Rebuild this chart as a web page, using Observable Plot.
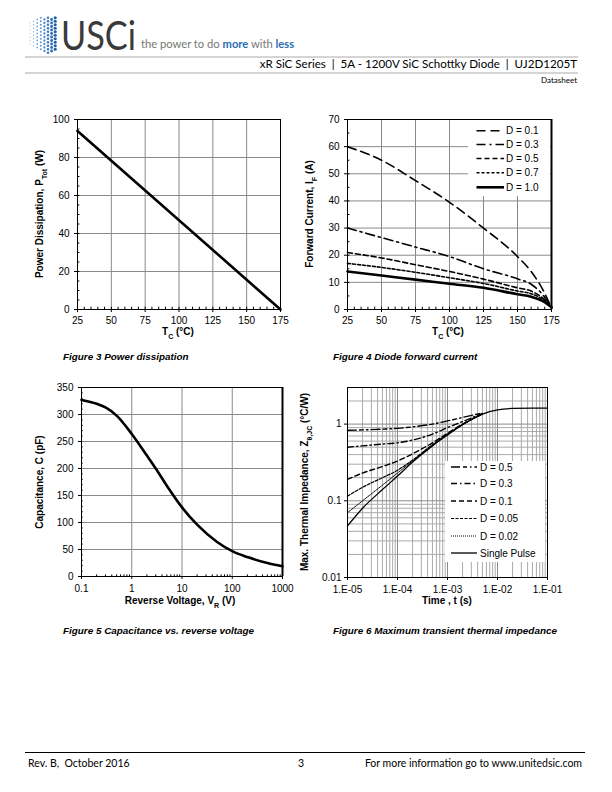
<!DOCTYPE html>
<html><head><meta charset="utf-8">
<script src="https://cdn.jsdelivr.net/npm/d3@7"></script>
<script src="https://cdn.jsdelivr.net/npm/@observablehq/plot@0.6"></script>
<style>
body{margin:0;background:#fff;}
#page{position:relative;width:612px;height:792px;overflow:hidden;background:#fff;}
.chart{position:absolute;}
.cap{position:absolute;font-family:"Liberation Sans",Arial,sans-serif;font-weight:bold;font-style:italic;font-size:9.9px;line-height:10px;white-space:nowrap;}
.ft{position:absolute;font-family:Lato,"Open Sans",sans-serif;font-size:10.5px;line-height:11px;white-space:pre;color:#000;}
</style></head><body><div id="page">
<svg id="hdr" width="612" height="90" style="position:absolute;left:0;top:0"></svg>
<div class="chart" id="c1" style="left:30px;top:110px"></div>
<div class="chart" id="c2" style="left:300px;top:110px"></div>
<div class="chart" id="c3" style="left:30px;top:375px"></div>
<div class="chart" id="c4" style="left:300px;top:375px"></div>
<div class="cap" style="left:63px;top:352px">Figure 3 Power dissipation</div>
<div class="cap" style="left:333px;top:352px">Figure 4 Diode forward current</div>
<div class="cap" style="left:63px;top:626px">Figure 5 Capacitance vs. reverse voltage</div>
<div class="cap" style="left:333px;top:626px">Figure 6 Maximum transient thermal impedance</div>
<div style="position:absolute;left:25px;top:752px;width:560px;height:0;border-top:1.5px solid #000"></div>
<div class="ft" style="left:28px;top:758px">Rev. B,  October 2016</div>
<div class="ft" style="left:298px;top:758px">3</div>
<div class="ft" style="right:30px;top:758px">For more information go to www.unitedsic.com</div>
</div>
<script>
// ---------- Figure 3: power dissipation ----------
const tc1 = [25, 175];
const ptot = [94, 0];
const xTicks1 = [25, 50, 75, 100, 125, 150, 175];
const yTicks1 = [0, 20, 40, 60, 80, 100];

// ---------- Figure 4: forward current vs case temperature ----------
const tc2 = [25, 50, 75, 100, 125, 150, 160, 170, 175];
const ifD01 = [60, 55, 47.5, 39.5, 30, 19.5, 14, 6, 0.5];
const ifD03 = [30, 26.5, 23, 19.5, 15, 11.3, 9.3, 4.5, 0.5];
const ifD05 = [21, 19, 16.5, 14, 11.2, 8, 6.8, 3.6, 0.8];
const ifD07 = [17, 15.5, 13.7, 11.7, 9.6, 6.8, 5.8, 3.2, 0.8];
const ifD10 = [14, 12.5, 11, 9.5, 8, 5.6, 4.7, 2.7, 0.8];
const dutyLabels2 = ["D = 0.1", "D = 0.3", "D = 0.5", "D = 0.7", "D = 1.0"];
const yTicks2 = [0, 10, 20, 30, 40, 50, 60, 70];

// ---------- Figure 5: capacitance vs reverse voltage ----------
const vr = [0.1, 0.2, 0.3, 0.5, 1, 2, 3, 5, 10, 20, 50, 100, 200, 500, 1000];
const capPF = [327, 320, 313, 298, 264, 224, 200, 168, 128, 96, 64, 47, 36, 25, 19];
const xTicks3 = [0.1, 1, 10, 100, 1000];
const xTickLabels3 = ["0.1", "1", "10", "100", "1000"];
const yTicks3 = [0, 50, 100, 150, 200, 250, 300, 350];

// ---------- Figure 6: transient thermal impedance ----------
const tSP = [1e-5, 2e-5, 5e-5, 1e-4, 2e-4, 5e-4, 1e-3, 2e-3, 5e-3, 1e-2, 2e-2, 5e-2, 1e-1];
const zSP = [0.047, 0.08, 0.14, 0.21, 0.32, 0.52, 0.72, 0.98, 1.35, 1.53, 1.6, 1.62, 1.62];
const tD = [1e-5, 2e-5, 5e-5, 1e-4, 2e-4, 5e-4, 1e-3, 2e-3, 5e-3];
const zD002 = [0.07, 0.1, 0.16, 0.23, 0.33, 0.53, 0.73, 0.985, 1.35];
const zD005 = [0.115, 0.15, 0.2, 0.25, 0.34, 0.54, 0.74, 0.99, 1.35];
const zD01 = [0.19, 0.23, 0.28, 0.33, 0.41, 0.57, 0.76, 1.0, 1.36];
const zD03 = [0.5, 0.52, 0.55, 0.57, 0.62, 0.74, 0.9, 1.08, 1.38];
const zD05 = [0.83, 0.84, 0.86, 0.88, 0.92, 1.0, 1.1, 1.22, 1.4];
const dutyLabels4 = ["D = 0.5", "D = 0.3", "D = 0.1", "D = 0.05", "D = 0.02", "Single Pulse"];
const xTicks4 = [1e-5, 1e-4, 1e-3, 1e-2, 1e-1];
const xTickLabels4 = ["1.E-05", "1.E-04", "1.E-03", "1.E-02", "1.E-01"];
const yTicks4 = [0.01, 0.1, 1];
const yTickLabels4 = ["0.01", "0.1", "1"];

const FONT = "'Liberation Sans', Arial, Helvetica, sans-serif";
const GRID = "#8a8a8a";
const baseStyle = {fontFamily: FONT, fontSize: "10px", color: "#000", background: "transparent", overflow: "visible"};

function rows(xs, ys, series) { return xs.map((x, i) => ({x, y: ys[i], s: series})); }
function logMinors(lo, hi) {
  const out = [];
  for (let e = lo; e < hi; e++) for (let m = 2; m <= 9; m++) out.push(m * Math.pow(10, e));
  return out;
}
function labelFor(ticks, labels) {
  return d => {
    let best = 0, bd = Infinity;
    ticks.forEach((t, i) => { const dd = Math.abs(Math.log10(t) - Math.log10(d)); if (dd < bd) { bd = dd; best = i; } });
    return labels[best];
  };
}
function axisTitle(svg, x, y, parts, rotate) {
  const t = d3.select(svg).append("text")
    .attr("transform", `translate(${x},${y}) rotate(${rotate || 0})`)
    .attr("text-anchor", "middle").attr("font-weight", "bold")
    .attr("font-family", FONT).attr("font-size", "10px").attr("fill", "#000");
  parts.forEach(([s, sub]) => {
    const ts = t.append("tspan").text(s);
    if (sub) ts.attr("font-size", "7px").attr("baseline-shift", "sub");
  });
}
function legend(svg, box, items, x0, x1, xt, ys, fs) {
  const g = d3.select(svg).append("g").attr("text-anchor", "start");
  g.append("rect").attr("x", box[0]).attr("y", box[1]).attr("width", box[2]).attr("height", box[3]).attr("fill", "#fff");
  items.forEach((it, i) => {
    g.append("line").attr("x1", x0).attr("x2", x1).attr("y1", ys[i]).attr("y2", ys[i])
      .attr("stroke", "#000").attr("stroke-width", it.w).attr("stroke-dasharray", it.dash || null);
    g.append("text").attr("x", xt).attr("y", ys[i]).attr("dy", "0.35em").attr("text-anchor", "start")
      .attr("font-family", FONT).attr("font-size", fs).attr("fill", "#000").text(it.label);
  });
}

// ---------- Chart 1 ----------
{
  const minorX = d3.range(30, 175, 5);
  const minorY = d3.range(5, 100, 5);
  const svg = Plot.plot({
    width: 260, height: 250, marginLeft: 47, marginRight: 10, marginTop: 9, marginBottom: 51,
    style: baseStyle,
    x: {domain: [25, 175], ticks: xTicks1, tickSize: 3, tickPadding: 4, label: null},
    y: {domain: [0, 100], ticks: yTicks1, tickSize: 3, tickPadding: 5, label: null},
    marks: [
      Plot.gridX(xTicks1, {stroke: GRID, strokeOpacity: 1}),
      Plot.gridY(yTicks1, {stroke: GRID, strokeOpacity: 1}),
      Plot.ruleX(minorX, {y1: 0, y2: 1.2, stroke: "#000"}),
      Plot.ruleY(minorY, {x1: 25, x2: 26.8, stroke: "#000"}),
      Plot.frame({stroke: "#000"}),
      Plot.line(rows(tc1, ptot, "P"), {x: "x", y: "y", stroke: "#000", strokeWidth: 2.6})
    ]
  });
  axisTitle(svg, 148, 225, [["T", 0], ["C", 1], [" (°C)", 0]]);
  axisTitle(svg, 13, 104, [["Power Dissipation, P", 0], ["Tot", 1], [" (W)", 0]], -90);
  document.getElementById("c1").appendChild(svg);
}

// ---------- Chart 2 ----------
{
  const minorX = d3.range(30, 175, 5);
  const minorY = d3.range(5, 70, 5);
  const styles = [
    {w: 1.6, dash: "9,5"},
    {w: 1.6, dash: "9,4,2,4"},
    {w: 1.6, dash: "5,3"},
    {w: 1.6, dash: "3,2"},
    {w: 2.6, dash: null}
  ];
  const series = [ifD01, ifD03, ifD05, ifD07, ifD10];
  const marks = [
    Plot.gridX(xTicks1, {stroke: GRID, strokeOpacity: 1}),
    Plot.gridY(yTicks2, {stroke: GRID, strokeOpacity: 1}),
    Plot.ruleX(minorX, {y1: 0, y2: 0.85, stroke: "#000"}),
    Plot.ruleY(minorY, {x1: 25, x2: 26.8, stroke: "#000"}),
    Plot.frame({stroke: "#000"}),
    Plot.ruleX([175], {stroke: "#000", strokeWidth: 2})
  ];
  series.forEach((s, i) => marks.push(Plot.line(rows(tc2, s, dutyLabels2[i]), {
    x: "x", y: "y", stroke: "#000", strokeWidth: styles[i].w, strokeDasharray: styles[i].dash, curve: "monotone-x"
  })));
  const svg = Plot.plot({
    width: 260, height: 250, marginLeft: 47, marginRight: 9, marginTop: 9, marginBottom: 51,
    style: baseStyle,
    x: {domain: [25, 175], ticks: xTicks1, tickSize: 3, tickPadding: 4, label: null},
    y: {domain: [0, 70], ticks: yTicks2, tickSize: 3, tickPadding: 5, label: null},
    marks
  });
  legend(svg, [168, 10, 82, 76], styles.map((s, i) => ({...s, label: dutyLabels2[i]})),
    176.5, 204, 206, [20.7, 34.5, 48.5, 62.7, 77.3], "10px");
  axisTitle(svg, 148, 225, [["T", 0], ["C", 1], [" (°C)", 0]]);
  axisTitle(svg, 13, 104, [["Forward Current, I", 0], ["F", 1], [" (A)", 0]], -90);
  document.getElementById("c2").appendChild(svg);
}

// ---------- Chart 3 ----------
{
  const minorX = logMinors(-1, 3);
  const minorY = d3.range(10, 350, 10).filter(v => v % 50 !== 0);
  const svg = Plot.plot({
    width: 262, height: 250, marginLeft: 51, marginRight: 10, marginTop: 12, marginBottom: 49,
    style: baseStyle,
    x: {type: "log", domain: [0.1, 1000], ticks: xTicks3, tickFormat: labelFor(xTicks3, xTickLabels3), tickSize: 3, tickPadding: 5, label: null},
    y: {domain: [0, 350], ticks: yTicks3, tickSize: 3, tickPadding: 5, label: null},
    marks: [
      Plot.gridX(xTicks3, {stroke: GRID, strokeOpacity: 1}),
      Plot.gridY(yTicks3, {stroke: GRID, strokeOpacity: 1}),
      Plot.ruleX(minorX, {y1: 0, y2: 3, stroke: "#000"}),
      Plot.ruleY(minorY, {x1: 0.1, x2: 0.108, stroke: "#000"}),
      Plot.frame({stroke: "#000"}),
      Plot.ruleX([1000], {stroke: "#000", strokeWidth: 2}),
      Plot.line(rows(vr, capPF, "C"), {x: "x", y: "y", stroke: "#000", strokeWidth: 2.6, curve: "monotone-x"})
    ]
  });
  axisTitle(svg, 150, 229, [["Reverse Voltage, V", 0], ["R", 1], [" (V)", 0]]);
  axisTitle(svg, 13, 107, [["Capacitance, C (pF)", 0]], -90);
  document.getElementById("c3").appendChild(svg);
}

// ---------- Chart 4 ----------
{
  const minorX = logMinors(-5, -1);
  const minorY = logMinors(-2, 0).concat([2, 3]);
  const styles = [
    {w: 1.4, dash: "9,3,4,3,1.5,3"},
    {w: 1.4, dash: "6,3,1.5,3"},
    {w: 1.4, dash: "5,3"},
    {w: 1.2, dash: "3,1.5"},
    {w: 1.0, dash: "1,1"},
    {w: 1.3, dash: null}
  ];
  const ts = [tD, tD, tD, tD, tD, tSP];
  const zs = [zD05, zD03, zD01, zD005, zD002, zSP];
  const marks = [
    Plot.gridX(minorX, {stroke: "#aaa", strokeOpacity: 1}),
    Plot.gridY(minorY, {stroke: "#aaa", strokeOpacity: 1}),
    Plot.gridX(xTicks4, {stroke: GRID, strokeOpacity: 1}),
    Plot.gridY(yTicks4, {stroke: GRID, strokeOpacity: 1}),
    Plot.frame({stroke: "#000"})
  ];
  zs.forEach((z, i) => marks.push(Plot.line(rows(ts[i], z, dutyLabels4[i]), {
    x: "x", y: "y", stroke: "#000", strokeWidth: styles[i].w, strokeDasharray: styles[i].dash, curve: "monotone-x"
  })));
  const svg = Plot.plot({
    width: 258, height: 250, marginLeft: 47, marginRight: 11, marginTop: 12, marginBottom: 48,
    style: baseStyle,
    x: {type: "log", domain: [1e-5, 1e-1], ticks: xTicks4, tickFormat: labelFor(xTicks4, xTickLabels4), tickSize: 3, tickPadding: 5, label: null},
    y: {type: "log", domain: [0.01, 3], ticks: yTicks4, tickFormat: labelFor(yTicks4, yTickLabels4), tickSize: 3, tickPadding: 3, label: null},
    marks
  });
  legend(svg, [145, 86, 100, 101], styles.map((s, i) => ({...s, label: dutyLabels4[i]})),
    151, 177, 180, [92, 108.5, 126, 143.5, 161, 178], "10px");
  axisTitle(svg, 147, 229, [["Time , t (s)", 0]]);
  axisTitle(svg, 8, 107, [["Max. Thermal Impedance, Z", 0], ["θ,JC", 1], [" (°C/W)", 0]], -90);
  document.getElementById("c4").appendChild(svg);
}

// ---------- Header ----------
{
  const h = d3.select("#hdr");
  const HF = "Lato, 'Open Sans', sans-serif";
  for (let c = 0; c < 8; c++) {
    for (let r = 0; r < 11; r++) {
      const cx = 30 + c * 3.6, cy = 16 + r * 3.5 + (c % 2) * 1.75;
      const dy = Math.abs(cy - 34);
      if (dy > 19 - Math.abs(c - 5) * 1.2) continue;
      const rad = 0.6 + c * 0.14;
      h.append("circle").attr("cx", cx).attr("cy", cy).attr("r", rad)
        .attr("fill", d3.interpolateRgb("#9cc3ea", "#1d5fa8")(c / 7));
    }
  }
  h.append("text").attr("x", 61).attr("y", 50).attr("font-family", HF)
    .attr("font-size", "40px").attr("fill", "#3a3a3a").attr("textLength", 75).attr("lengthAdjust", "spacingAndGlyphs").text("USCi");
  const tg = h.append("text").attr("x", 141).attr("y", 48).attr("font-family", HF)
    .attr("font-size", "11.2px").attr("fill", "#777");
  tg.append("tspan").text("the power to do ");
  tg.append("tspan").attr("font-weight", "bold").attr("fill", "#2a6db3").text("more");
  tg.append("tspan").text(" with ");
  tg.append("tspan").attr("font-weight", "bold").attr("fill", "#2a6db3").text("less");
  h.append("line").attr("x1", 25).attr("x2", 578).attr("y1", 57).attr("y2", 57).attr("stroke", "#aaa").attr("stroke-width", 1);
  h.append("line").attr("x1", 25).attr("x2", 578).attr("y1", 73).attr("y2", 73).attr("stroke", "#aaa").attr("stroke-width", 1);
  h.append("text").attr("x", 577).attr("y", 68).attr("text-anchor", "end").attr("font-family", HF)
    .attr("font-size", "11.6px").attr("fill", "#000").style("white-space", "pre")
    .text("xR SiC Series  |  5A - 1200V SiC Schottky Diode  |  UJ2D1205T");
  h.append("text").attr("x", 577).attr("y", 83).attr("text-anchor", "end").attr("font-family", HF)
    .attr("font-size", "8px").attr("fill", "#000").text("Datasheet");
}
</script>
</body></html>
